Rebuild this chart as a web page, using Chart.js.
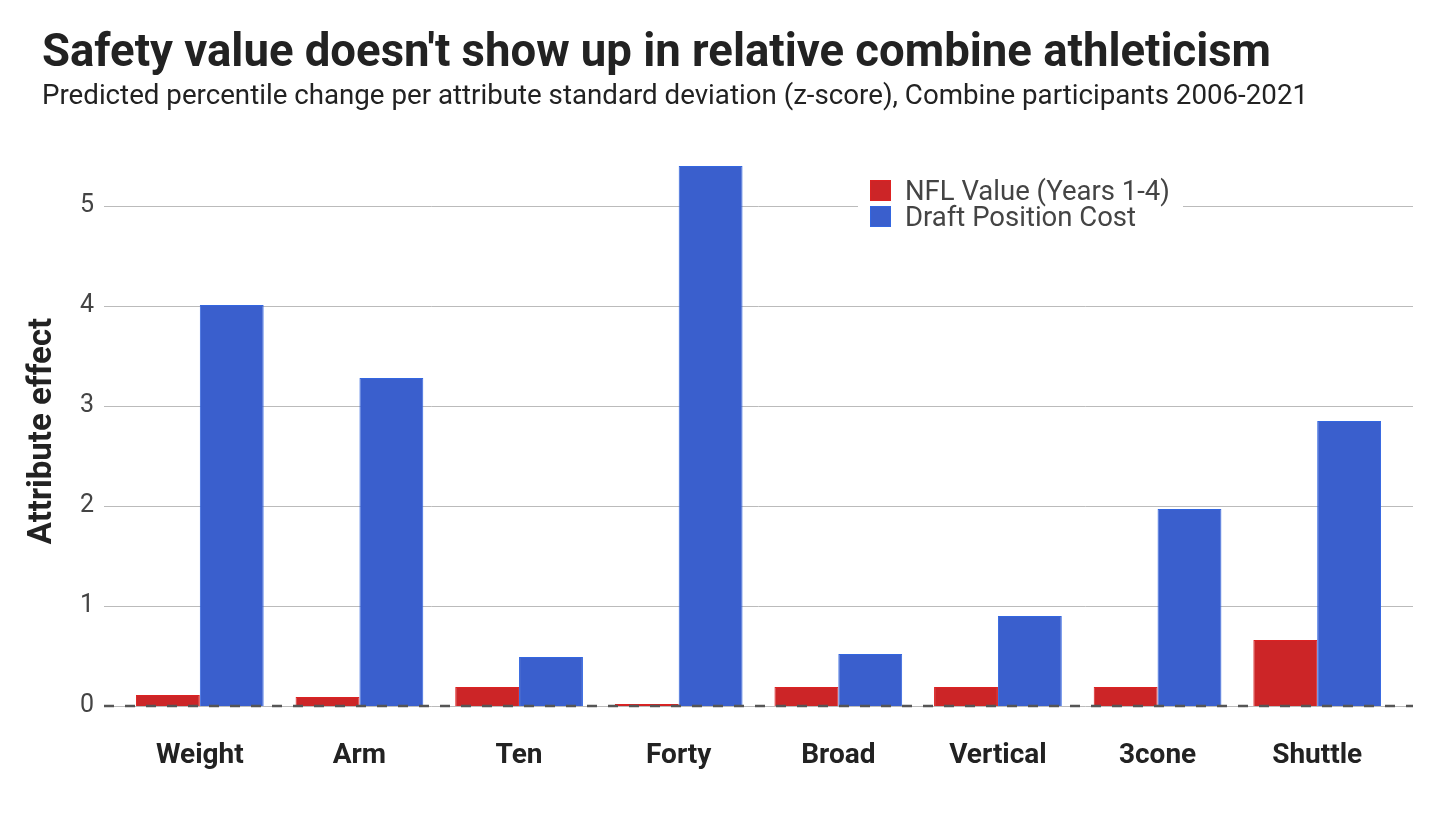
<!DOCTYPE html>
<html>
<head>
<meta charset="utf-8">
<script src="https://cdn.jsdelivr.net/npm/chart.js@4"></script>
<style>
  body { margin: 0; background: #fff; font-family: Roboto, sans-serif; }
  #wrap { position: relative; width: 1456px; height: 819px; }
  #title { position: absolute; left: 42px; top: 28px; margin: 0; font-size: 45.5px; line-height: 1; font-weight: bold; color: #222; white-space: nowrap; }
  #subtitle { position: absolute; left: 42px; top: 81px; margin: 0; font-size: 27.7px; line-height: 1; color: #222; white-space: nowrap; }
  #legend { position: absolute; left: 858px; top: 177px; background: #fff; padding: 0 13px 2px 12px; }
  .item { display: flex; align-items: center; height: 26px; font-size: 27.5px; color: #444; }
  .box { width: 21px; height: 21px; margin-right: 14px; box-sizing: border-box; }
</style>
</head>
<body>
<div id="wrap">
  <canvas id="chart" width="1456" height="819"></canvas>
  <h1 id="title">Safety value doesn't show up in relative combine athleticism</h1>
  <p id="subtitle">Predicted percentile change per attribute standard deviation (z-score), Combine participants 2006-2021</p>
  <div id="legend"></div>
</div>
<script>
var categories = ['Weight', 'Arm', 'Ten', 'Forty', 'Broad', 'Vertical', '3cone', 'Shuttle'];
var nflValue = [0.11, 0.09, 0.19, 0.02, 0.19, 0.19, 0.19, 0.66];
var draftCost = [4.01, 3.28, 0.49, 5.40, 0.52, 0.90, 1.97, 2.85];
var seriesNames = ['NFL Value (Years 1-4)', 'Draft Position Cost'];

var redFill = '#cc2527', redLine = '#dd2222';
var blueFill = '#3a5fcd', blueLine = '#3366e0';

// gridlines stick out a bit past the bars, and the zero line is dashed on top
var gridPlugin = {
    id: 'grid',
    beforeDatasetsDraw: function(chart) {
        var ctx = chart.ctx, y = chart.scales.y, a = chart.chartArea;
        ctx.save();
        ctx.strokeStyle = '#bbbbbb';
        ctx.lineWidth = 1;
        y.ticks.forEach(function(t) {
            var py = Math.round(y.getPixelForValue(t.value)) + 0.5;
            ctx.beginPath();
            ctx.moveTo(a.left - 16, py);
            ctx.lineTo(a.right + 16, py);
            ctx.stroke();
        });
        ctx.restore();
    },
    afterDatasetsDraw: function(chart) {
        var ctx = chart.ctx, y = chart.scales.y, a = chart.chartArea;
        var py = y.getPixelForValue(0);
        ctx.save();
        ctx.strokeStyle = '#555555';
        ctx.lineWidth = 2.5;
        ctx.setLineDash([10, 11]);
        ctx.beginPath();
        ctx.moveTo(a.left - 16, py);
        ctx.lineTo(a.right + 16, py);
        ctx.stroke();
        ctx.restore();
    }
};

var config = {
    type: 'bar',
    data: {
        labels: categories,
        datasets: [{
            label: seriesNames[0],
            data: nflValue,
            backgroundColor: redFill,
            borderColor: redLine,
            borderWidth: 1
        }, {
            label: seriesNames[1],
            data: draftCost,
            backgroundColor: blueFill,
            borderColor: blueLine,
            borderWidth: 1
        }]
    },
    plugins: [gridPlugin],
    options: {
        responsive: false,
        animation: false,
        layout: { padding: { top: 156, right: 59, left: 0, bottom: 0 } },
        plugins: {
            legend: { display: false },
            tooltip: { enabled: false }
        },
        datasets: {
            bar: { categoryPercentage: 0.8, barPercentage: 1.0 }
        },
        scales: {
            x: {
                grid: { display: false, drawTicks: false },
                border: { display: false },
                ticks: {
                    padding: 33,
                    color: '#222',
                    font: { family: 'Roboto', size: 28, weight: 'bold' }
                },
                afterFit: function(scale) { scale.height = 819 - 706; }
            },
            y: {
                min: 0,
                max: 5.5,
                grid: { display: false, drawTicks: false },
                border: { display: false },
                afterBuildTicks: function(scale) {
                    scale.ticks = scale.ticks.filter(function(t) { return Number.isInteger(t.value); });
                },
                ticks: {
                    stepSize: 1,
                    padding: 26,
                    color: '#444',
                    font: { family: 'Roboto', size: 25 }
                },
                title: {
                    display: true,
                    text: 'Attribute effect',
                    color: '#222',
                    padding: { top: 23, bottom: 0 },
                    font: { family: 'Roboto', size: 33, weight: 'bold' }
                },
                afterFit: function(scale) { scale.width = 120; }
            }
        }
    }
};

var ctx = document.getElementById('chart');
window.myChart = new Chart(ctx, config);

// html legend built from the datasets
var legendEl = document.getElementById('legend');
myChart.data.datasets.forEach(function(ds) {
    legendEl.innerHTML += '<div class="item"><span class="box" style="background:' + ds.backgroundColor +
        ';border:1px solid ' + ds.borderColor + '"></span>' + ds.label + '</div>';
});
</script>
</body>
</html>
